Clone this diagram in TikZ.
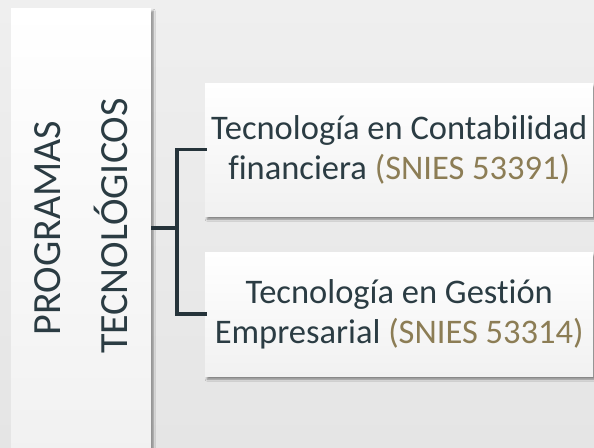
\documentclass[tikz,border=0pt]{standalone}
\usepackage{fontspec}
\setmainfont{Carlito}[Ligatures={NoCommon}]
\usetikzlibrary{shadows.blur}
\definecolor{bgtop}{HTML}{EFEFEF}
\definecolor{bgbot}{HTML}{E5E5E5}
\definecolor{ink}{HTML}{2B3C43}
\definecolor{gold}{HTML}{8C7D55}
\definecolor{boxbot}{HTML}{F1F1F1}
\definecolor{linec}{HTML}{25333A}
\tikzset{
  panel/.style={draw=none, top color=white, bottom color=boxbot, inner sep=0pt,
    blur shadow={shadow xshift=2pt, shadow yshift=-3pt, shadow blur steps=6, shadow opacity=45, shadow blur radius=2pt}},
  bigtxt/.style={text=ink, font=\fontsize{40}{48}\selectfont, rotate=90, anchor=base, inner sep=0pt},
  prog/.style={panel, text=ink, align=center, font=\fontsize{34.5}{40}\selectfont,
    minimum width=388pt, anchor=north west},
  conn/.style={draw=linec, line width=3.5pt}
}
\begin{document}
\begin{tikzpicture}[x=1pt,y=-1pt]
\useasboundingbox (0,0) rectangle (594,447);
\shade[top color=bgtop, bottom color=bgbot] (0,0) rectangle (594,447);
\node[panel, minimum width=140pt, minimum height=450pt, anchor=north west] (left) at (11,8) {};
\node[bigtxt] (t1) at (60,228) {PROGRAMAS};
\node[bigtxt] (t2) at (127,226) {TECNOLÓGICOS};
\node[prog, minimum height=133pt] (p1) at (205,83) {Tecnología en Contabilidad\\financiera \textcolor{gold}{(SNIES 53391)}};
\node[prog, minimum height=124pt] (p2) at (205,252) {Tecnología en Gestión\\Empresarial \textcolor{gold}{(SNIES 53314)}};
\coordinate (j) at (177,228);
\draw[conn] (left.east |- j) -- (j);
\draw[conn, line cap=rect] (p1.west) -| (j) |- (p2.west);
\end{tikzpicture}
\end{document}
